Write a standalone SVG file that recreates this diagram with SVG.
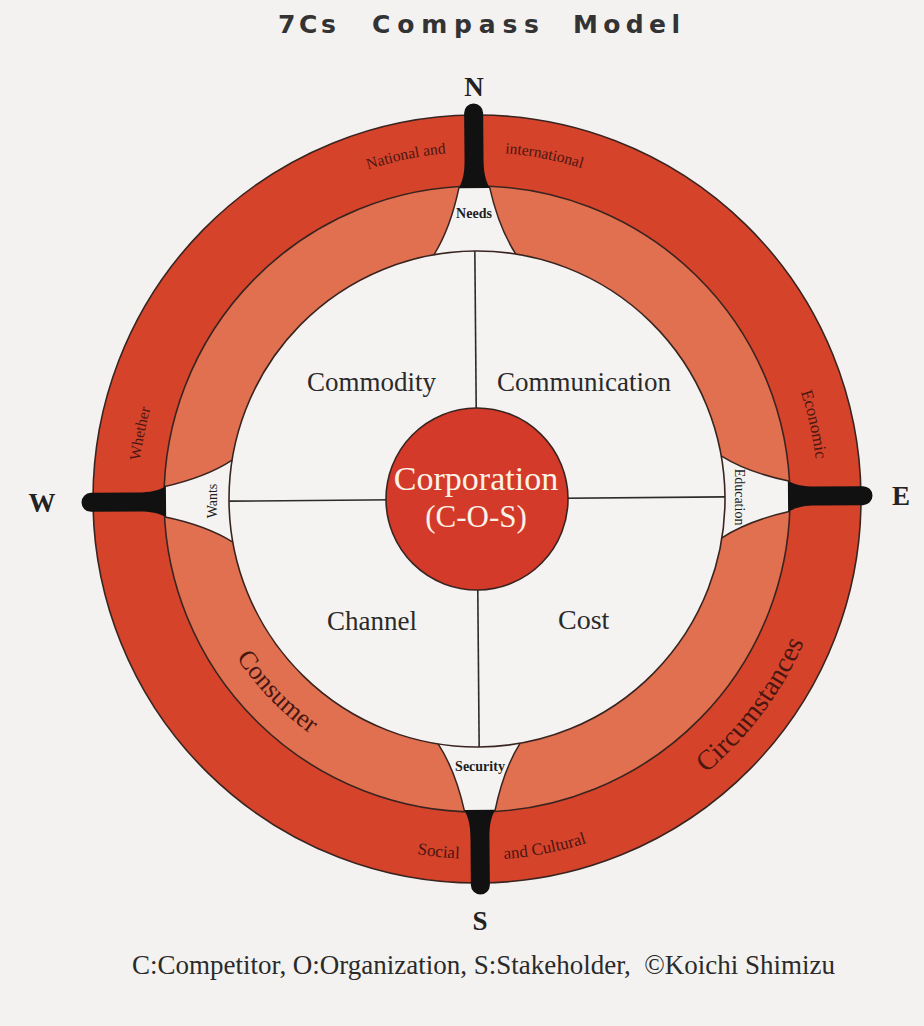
<svg xmlns="http://www.w3.org/2000/svg" width="924" height="1026" viewBox="0 0 924 1026">
<style>
.bg{fill:#f3f2f0}
.ring{stroke:#3a2420;stroke-width:1.6}
.outer{fill:#d5432b}
.mid{fill:#e0704f}
.inner{fill:#f4f3f1}
.gap{fill:#f4f3f1}
.side{fill:none;stroke:#3a2420;stroke-width:1.5}
.needle{fill:#111}
.axis{stroke:#2b2b2b;stroke-width:1.6}
.core{fill:#d33a2a;stroke:#3a2420;stroke-width:1.6}
.serif{font-family:"Liberation Serif","Times New Roman",serif}
.dir{font-size:27px;font-weight:bold;fill:#222;text-anchor:middle}
.quad{font-size:27px;fill:#2a2a2a}
.arc{fill:#4a1610}
.small{font-size:14px;fill:#1e1e1e;text-anchor:middle}
.title{font-family:"DejaVu Sans",Verdana,sans-serif;font-weight:bold;font-size:25px;fill:#333}
</style>
<defs>
<path id="gapN" d="M462,186 Q453,228 436,254.5 L436,262 L518,262 L518,254.5 Q501,228 492,186 Z"/>
<path id="sideN" d="M462,186 Q453,228 436,254.5 M492,186 Q501,228 518,254.5"/>
<path id="needleN" d="M461.5,188 C466,180 467.5,172 467.5,160 L467.5,113 A9.5,9.5 0 0 1 486.5,113 L486.5,160 C486.5,172 488,180 492.5,188 Z"/>
<path id="pNational" d="M294.6,203.8 A347,347 0 0 1 527.1,155.6"/>
<path id="pInternational" d="M423.3,156.2 A347,347 0 0 1 656.2,201.9"/>
<path id="pWhether" d="M142.2,552.0 A339,339 0 0 1 186.4,324.4"/>
<path id="pEconomic" d="M764.6,315.8 A341,341 0 0 1 815.1,543.5"/>
<path id="pSocial" d="M318.1,822.0 A360,360 0 0 0 562.9,848.6"/>
<path id="pCultural" d="M420.5,855.6 A361,361 0 0 0 662.9,808.4"/>
<path id="pCircum" d="M617.1,827.4 A357,357 0 0 0 831.4,541.9"/>
<path id="pConsumer" d="M197.6,568.7 A288,288 0 0 0 397.6,775.8"/>
</defs>
<rect class="bg" x="0" y="0" width="924" height="1026"/>

<g id="title">
<text class="title" x="278" y="33" textLength="58" lengthAdjust="spacing">7Cs</text>
<text class="title" x="372" y="33" textLength="167" lengthAdjust="spacing">Compass</text>
<text class="title" x="573" y="33" textLength="107" lengthAdjust="spacing">Model</text>
</g>

<g id="compass" transform="rotate(-0.5 477 499)">
<circle id="ring-circumstances" class="ring outer" cx="477" cy="499" r="384"/>
<circle id="ring-consumer" class="ring mid" cx="477" cy="499" r="313"/>
<g id="gaps" class="gap">
<use href="#gapN"/>
<use href="#gapN" transform="rotate(90 477 499)"/>
<use href="#gapN" transform="rotate(180 477 499)"/>
<use href="#gapN" transform="rotate(270 477 499)"/>
</g>
<circle id="inner-area" class="ring inner" cx="477" cy="499" r="248"/>
<g id="gap-sides" class="side">
<use href="#sideN"/>
<use href="#sideN" transform="rotate(90 477 499)"/>
<use href="#sideN" transform="rotate(180 477 499)"/>
<use href="#sideN" transform="rotate(270 477 499)"/>
</g>
<g id="needles" class="needle">
<use href="#needleN"/>
<use href="#needleN" transform="rotate(90 477 499)"/>
<use href="#needleN" transform="rotate(180 477 499)"/>
<use href="#needleN" transform="rotate(270 477 499)"/>
</g>
<g id="connectors" class="axis">
<line x1="477" y1="251" x2="477" y2="747"/>
<line x1="229" y1="499" x2="725" y2="499"/>
</g>
<circle id="corporation" class="core" cx="477" cy="499" r="91"/>
</g>

<g id="directions" class="serif dir">
<text x="474" y="96">N</text>
<text x="42" y="512">W</text>
<text x="901" y="505">E</text>
<text x="480" y="930">S</text>
</g>

<g id="ring-labels" class="serif arc">
<text font-size="15.5" text-anchor="middle"><textPath href="#pNational" startOffset="50%">National and</textPath></text>
<text font-size="15.5" text-anchor="middle"><textPath href="#pInternational" startOffset="50%">international</textPath></text>
<text font-size="15.5" text-anchor="middle"><textPath href="#pWhether" startOffset="50%">Whether</textPath></text>
<text font-size="17" text-anchor="middle"><textPath href="#pEconomic" startOffset="50%">Economic</textPath></text>
<text font-size="17" text-anchor="middle"><textPath href="#pSocial" startOffset="50%">Social</textPath></text>
<text font-size="17" text-anchor="middle"><textPath href="#pCultural" startOffset="50%">and Cultural</textPath></text>
<text font-size="28" text-anchor="middle"><textPath href="#pCircum" startOffset="50%">Circumstances</textPath></text>
<text font-size="26" text-anchor="middle"><textPath href="#pConsumer" startOffset="50%">Consumer</textPath></text>
</g>

<g id="needs-labels" class="serif small">
<text x="474" y="218" font-weight="bold">Needs</text>
<text x="480" y="771" font-weight="bold">Security</text>
<text transform="translate(217,501) rotate(-90)">Wants</text>
<text transform="translate(735,497) rotate(90)">Education</text>
</g>

<g id="quadrants" class="serif quad">
<text id="commodity" x="307" y="391">Commodity</text>
<text id="communication" x="497" y="391">Communication</text>
<text id="channel" x="327" y="630">Channel</text>
<text id="cost" x="558" y="629" font-size="28">Cost</text>
</g>

<g id="corporation-label" class="serif" fill="#fbf2e8" text-anchor="middle">
<text x="476" y="490" font-size="34">Corporation</text>
<text x="476" y="527" font-size="31">(C-O-S)</text>
</g>

<text id="caption" class="serif" x="132" y="974" font-size="27" fill="#2a2a2a" textLength="703" lengthAdjust="spacing">C:Competitor, O:Organization, S:Stakeholder,&#160; ©Koichi Shimizu</text>
</svg>
